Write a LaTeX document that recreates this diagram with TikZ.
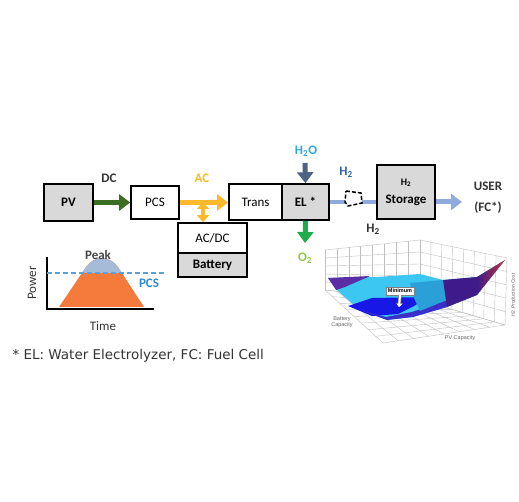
\documentclass[tikz,border=0pt]{standalone}
\usepackage{fontspec}
\setmainfont{Carlito}
\newfontfamily\notefont{DejaVu Sans}
\newfontfamily\plotfont{Liberation Sans}
\usetikzlibrary{arrows.meta,calc}

\definecolor{dcgreen}{HTML}{3B6E22}
\definecolor{acyellow}{HTML}{FBB92B}
\definecolor{hblue}{HTML}{8FAADC}
\definecolor{waterblue}{HTML}{4D6382}
\definecolor{oxgreen}{HTML}{1DAE4B}
\definecolor{cyantext}{HTML}{2EA6DF}
\definecolor{limetext}{HTML}{8CC63F}
\definecolor{navytext}{HTML}{2B62A8}
\definecolor{boxgray}{HTML}{D9D9D9}
\definecolor{peakorange}{HTML}{F47B3B}
\definecolor{peakblue}{HTML}{A5BCD8}
\definecolor{pcsblue}{HTML}{2E8BD0}
\definecolor{darktext}{HTML}{333333}
\definecolor{surfcyan}{HTML}{3CC6F2}
\definecolor{surfteal}{HTML}{2BA0D8}
\definecolor{surfblue}{HTML}{1818E6}
\definecolor{surfindigo}{HTML}{3A2FC8}
\definecolor{surfpurple}{HTML}{5B2EA6}
\definecolor{surfplum}{HTML}{3E1B88}
\definecolor{surfred}{HTML}{C0343E}

\tikzset{
  whitebox/.style={draw=black, line width=1.6pt, fill=white, inner sep=0pt, font=\fontsize{13}{15}\selectfont},
  graybox/.style={whitebox, fill=boxgray, font=\bfseries\fontsize{13}{15}\selectfont},
  flowarrow/.style={line width=5pt, -{Triangle[length=11pt,width=16pt]}},
  tag/.style={font=\bfseries\fontsize{13}{15}\selectfont, text=darktext},
  plotlabel/.style={font=\plotfont\fontsize{5.5}{6.5}\selectfont, text=gray!80!black, align=center},
  grid3d/.style={draw=black!25, line width=0.4pt}
}

\begin{document}
\begin{tikzpicture}[x=1pt, y=-1pt]
\useasboundingbox (0,0) rectangle (519,502);

\node[graybox, minimum width=49pt, minimum height=37pt] (pv) at (68.5,202.5) {PV};
\node[whitebox, minimum width=48pt, minimum height=33pt] (pcs) at (155,202.5) {PCS};
\node[whitebox, minimum width=53pt, minimum height=36pt] (trans) at (255.5,202) {Trans};
\node[graybox, minimum width=47pt, minimum height=36pt] (el) at (305.5,202) {EL *};
\node[graybox, minimum width=58pt, minimum height=54pt, align=center] (storage) at (406,192)
  {\fontsize{10}{12}\selectfont H\textsubscript{2}\\[3pt]Storage};
\node[whitebox, minimum width=69pt, minimum height=30pt] (acdc) at (212.5,238) {AC/DC};
\node[graybox, minimum width=69pt, minimum height=24pt] (battery) at (212.5,265) {Battery};

\draw[flowarrow, dcgreen] (pv.east) -- (pcs.west);
\node[tag] (dclabel) at (109,178) {DC};

\draw[flowarrow, acyellow] (pcs.east) -- (pcs.east -| trans.west);
\node[tag, text=acyellow] (aclabel) at (202,178) {AC};
\coordinate (acjoint) at (203,202);
\draw[acyellow, line width=4pt, {Triangle[length=7pt,width=12pt]}-{Triangle[length=7pt,width=12pt]}]
  (acjoint) -- (acjoint |- acdc.north);

\coordinate (h2oin) at (305,163);
\draw[flowarrow, waterblue] (h2oin) -- (el.north);
\node[tag, text=cyantext] (h2olabel) at (306,151) {H\textsubscript{2}O};
\coordinate (o2out) at (305,243);
\draw[flowarrow, oxgreen] (el.south) -- (o2out);
\node[tag, text=limetext] (o2label) at (305,258) {O\textsubscript{2}};

\draw[hblue, line width=4pt] (el.east) -- (el.east -| storage.west);
\node[tag, text=navytext] (h2label) at (346,172) {H\textsubscript{2}};
\draw[black, line width=1.5pt, fill=white, dash pattern=on 4pt off 2pt]
  (346,191) -- (361,193) -- (362,203) -- (348,206) -- (345,202) -- cycle;
\coordinate (userpt) at (462,202);
\draw[flowarrow, hblue] (el.east -| storage.east) -- (userpt);
\node[tag, align=center] (userlabel) at (488,198) {USER\\[6pt](FC*)};
\node[tag] (h2out) at (373,229) {H\textsubscript{2}};

% load curve
\begin{scope}
  \fill[peakorange] (59,307) -- (86,267) .. controls (95,255) and (109,255) .. (118,267) -- (144,307) -- cycle;
  \clip (40,240) rectangle (170,273);
  \fill[peakblue] (59,307) -- (86,267) .. controls (95,255) and (109,255) .. (118,267) -- (144,307) -- cycle;
\end{scope}
\draw[line width=2pt] (47,257) -- (47,309) -- (154,309);
\draw[pcsblue!80, line width=1.2pt, dash pattern=on 5pt off 3pt] (47,273) -- (167,273);
\node[tag, text=darktext!90] (peaklabel) at (98,255) {Peak};
\node[tag, text=pcsblue] (pcslabel) at (149,283) {PCS};
\node[font=\fontsize{13}{15}\selectfont, text=darktext, rotate=90] (powerlabel) at (32,283) {Power};
\node[font=\fontsize{13}{15}\selectfont, text=darktext] (timelabel) at (103,326) {Time};

\node[font=\notefont\fontsize{13.5}{15}\selectfont, text=darktext, anchor=west] (footnote) at (9,356)
  {* EL: Water Electrolyzer, FC: Fuel Cell};

% cost surface
\coordinate (lt) at (325,250);
\coordinate (lb) at (325,290);
\coordinate (bt) at (420,240);
\coordinate (bb) at (420,300);
\coordinate (rt) at (507,258);
\coordinate (rb) at (505,325);
\coordinate (fb) at (383,343);
\foreach \t in {0,0.125,...,1.01} {
  \draw[grid3d] ($(lt)!\t!(bt)$) -- ($(lb)!\t!(bb)$);
  \draw[grid3d] ($(bt)!\t!(rt)$) -- ($(bb)!\t!(rb)$);
  \draw[grid3d] ($(lb)!\t!(bb)$) -- ($(fb)!\t!(rb)$);
  \draw[grid3d] ($(lb)!\t!(fb)$) -- ($(bb)!\t!(rb)$);
}
\foreach \s in {0,0.2,...,1.01} {
  \draw[grid3d] ($(lt)!\s!(lb)$) -- ($(bt)!\s!(bb)$);
  \draw[grid3d] ($(bt)!\s!(bb)$) -- ($(rt)!\s!(rb)$);
}
\fill[surfcyan] (328,278) -- (377,277) -- (420,274) -- (443,280) -- (477,277) -- (505,260)
  -- (477,295) -- (447,307) -- (413,317) -- (387,320) -- (360,310) -- (340,293) -- cycle;
\fill[surfpurple] (328,278) -- (370,276) -- (345,287) -- (336,290) -- cycle;
\fill[surfblue] (348,306) -- (372,298) -- (428,297) -- (414,306) -- (398,314) -- (372,316) -- cycle;
\fill[surfindigo] (360,310) -- (386,317) -- (412,312) -- (447,300) -- (447,307) -- (413,317) -- (387,320) -- cycle;
\fill[surfteal] (410,283) -- (443,280) -- (447,300) -- (420,311) -- (414,298) -- cycle;
\fill[surfplum] (443,280) -- (477,277) -- (477,295) -- (447,307) -- cycle;
\shade[left color=surfplum, right color=surfred] (477,277) -- (505,260) -- (477,295) -- cycle;
\node[draw=gray, fill=white, font=\plotfont\bfseries\fontsize{5.5}{6}\selectfont, inner sep=1.8pt] (minlbl) at (400,291) {Minimum};
\coordinate (minpt) at (399,307);
\draw[gray, line width=3.2pt, -{Triangle[length=4pt,width=7pt]}] (minlbl.south) -- (minpt);
\draw[white, line width=2pt, -{Triangle[length=3pt,width=5pt]}] (minlbl.south) -- (minpt);
\node[plotlabel] (batlabel) at (342,322) {Battery\\Capacity};
\node[plotlabel] (pvcaplabel) at (460,338) {PV Capacity};
\node[plotlabel, rotate=90, font=\plotfont\fontsize{5}{6}\selectfont] (costlabel) at (513,295) {H2 Production Cost};
\end{tikzpicture}
\end{document}
